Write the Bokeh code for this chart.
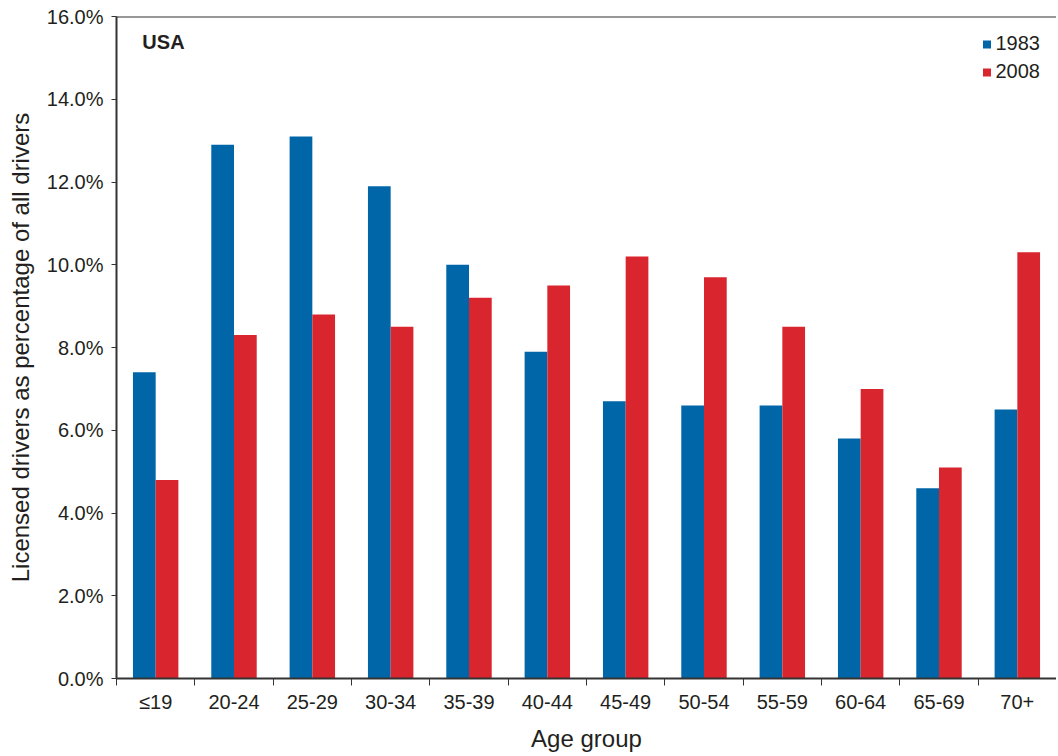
from bokeh.plotting import figure
from bokeh.models import (FixedTicker, PrintfTickFormatter, LinearAxis, Range1d,
                          Label, Legend, LegendItem, ColumnDataSource, Span)
from bokeh.embed import file_html
from bokeh.resources import INLINE

age_groups = ["\u226419", "20-24", "25-29", "30-34", "35-39", "40-44",
              "45-49", "50-54", "55-59", "60-64", "65-69", "70+"]
share_1983 = [7.4, 12.9, 13.1, 11.9, 10.0, 7.9, 6.7, 6.6, 6.6, 5.8, 4.6, 6.5]
share_2008 = [4.8, 8.3, 8.8, 8.5, 9.2, 9.5, 10.2, 9.7, 8.5, 7.0, 5.1, 10.3]
y_ticks = [0, 2, 4, 6, 8, 10, 12, 14, 16]

blue = "#0066a8"
red = "#d9252e"
txt = "#231f20"
font = "Liberation Sans"

centers = [i + 0.5 for i in range(len(age_groups))]
src = ColumnDataSource(dict(
    x83=[c - 0.145 for c in centers],
    x08=[c + 0.145 for c in centers],
    v83=share_1983,
    v08=share_2008,
))

p = figure(width=1056, height=754, output_backend="svg", toolbar_location=None,
           x_range=Range1d(0, len(age_groups)), y_range=Range1d(0, 16),
           x_axis_type=None, y_axis_type=None,
           min_border_left=116, min_border_right=0, min_border_top=16,
           min_border_bottom=60)
p.outline_line_color = None
p.xgrid.visible = False
p.ygrid.visible = False

r83 = p.vbar(x="x83", top="v83", width=0.29, source=src, color=blue, line_color=None)
r08 = p.vbar(x="x08", top="v08", width=0.29, source=src, color=red, line_color=None)

# y axis
ya = LinearAxis(ticker=FixedTicker(ticks=y_ticks),
                formatter=PrintfTickFormatter(format="%.1f%%"),
                axis_label="Licensed drivers as percentage of all drivers")
ya.major_tick_in = 0
ya.major_tick_out = 5
ya.minor_tick_line_color = None
ya.major_label_standoff = 8
ya.major_label_text_font = font
ya.major_label_text_font_size = "20px"
ya.major_label_text_color = txt
ya.axis_label_text_font = font
ya.axis_label_text_font_size = "24px"
ya.axis_label_text_font_style = "normal"
ya.axis_label_text_color = txt
ya.axis_label_standoff = 10
ya.axis_line_width = 2
ya.axis_line_color = "#333333"
ya.major_tick_line_color = "#333333"
p.add_layout(ya, "left")

# x axis: labels at centres, tick marks at group boundaries
xa = LinearAxis(ticker=FixedTicker(ticks=centers,
                                   minor_ticks=list(range(len(age_groups) + 1))),
                axis_label="Age group")
xa.major_label_overrides = {c: g for c, g in zip(centers, age_groups)}
xa.major_tick_line_color = None
xa.major_tick_in = 0
xa.major_tick_out = 0
xa.minor_tick_in = 0
xa.minor_tick_out = 7
xa.minor_tick_line_color = "#333333"
xa.major_label_standoff = 5
xa.major_label_text_font = font
xa.major_label_text_font_size = "20px"
xa.major_label_text_color = txt
xa.axis_label_text_font = font
xa.axis_label_text_font_size = "24px"
xa.axis_label_text_font_style = "normal"
xa.axis_label_text_color = txt
xa.axis_label_standoff = 9
xa.axis_line_width = 2
xa.axis_line_color = "#333333"
p.add_layout(xa, "below")

# top border line
p.add_layout(Span(location=16, dimension="width", line_color="#333333", line_width=2))

p.add_layout(Label(x=0.33, y=15.12, text="USA", text_font=font,
                   text_font_size="20px", text_font_style="bold", text_color=txt))

legend = Legend(items=[LegendItem(label="1983", renderers=[r83]),
                       LegendItem(label="2008", renderers=[r08])],
                location="top_right")
legend.background_fill_alpha = 0
legend.border_line_color = None
legend.label_text_font = font
legend.label_text_font_size = "20px"
legend.label_text_color = txt
legend.glyph_width = 10
legend.glyph_height = 10
legend.label_standoff = 4
legend.spacing = 5
legend.margin = 16
legend.padding = 14
p.add_layout(legend)

open("out.html", "w").write(file_html(p, INLINE))
